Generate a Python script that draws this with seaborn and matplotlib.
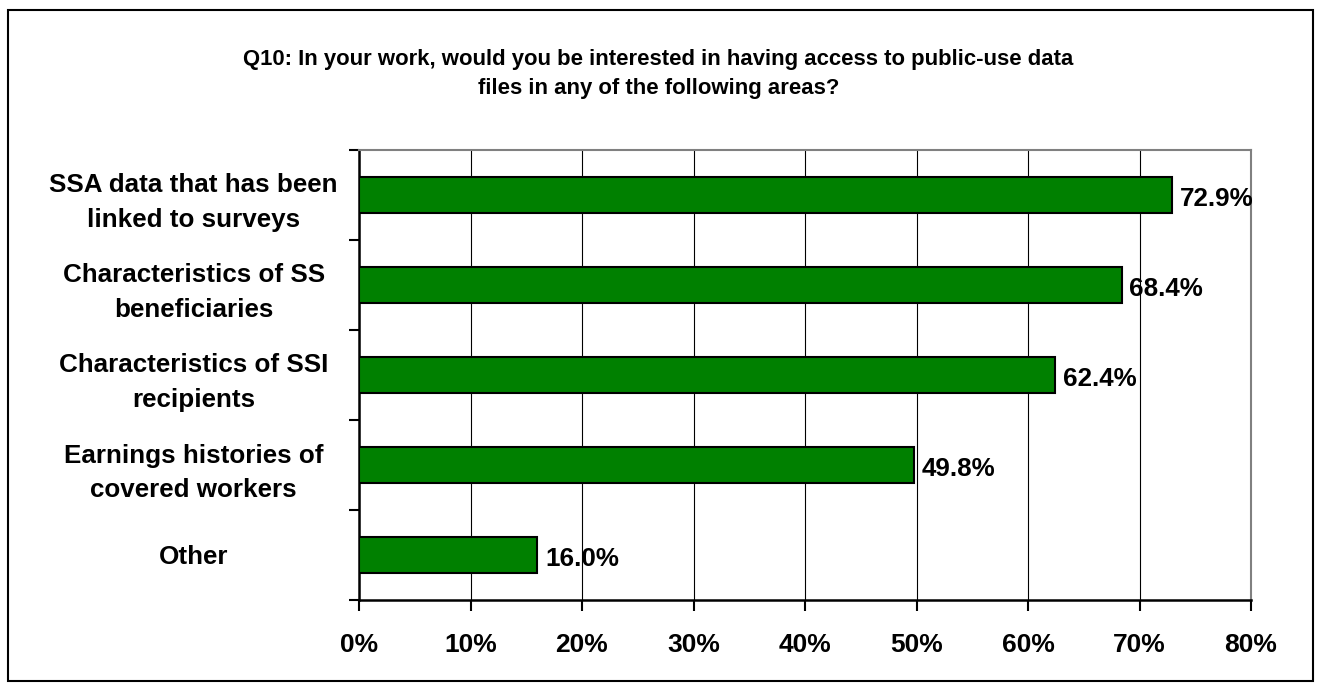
import matplotlib
matplotlib.use("Agg")
import matplotlib.pyplot as plt
import seaborn as sns
import pandas as pd
from matplotlib.patches import Rectangle
from matplotlib.ticker import FixedLocator, NullFormatter

categories = [
    "SSA data that has been\nlinked to surveys",
    "Characteristics of SS\nbeneficiaries",
    "Characteristics of SSI\nrecipients",
    "Earnings histories of\ncovered workers",
    "Other",
]
values = [72.9, 68.4, 62.4, 49.8, 16.0]
value_labels = ["72.9%", "68.4%", "62.4%", "49.8%", "16.0%"]
x_ticks = [0, 10, 20, 30, 40, 50, 60, 70, 80]
x_ticklabels = ["0%", "10%", "20%", "30%", "40%", "50%", "60%", "70%", "80%"]
title = ("Q10: In your work, would you be interested in having access to public-use data\n"
         "files in any of the following areas?")

df = pd.DataFrame({"category": categories, "value": values})

sns.set_theme(style="white")
plt.rcParams["font.family"] = ["Liberation Sans", "DejaVu Sans"]
plt.rcParams["text.color"] = "black"
plt.rcParams["xtick.color"] = "black"
plt.rcParams["ytick.color"] = "black"
plt.rcParams["xtick.labelcolor"] = "black"
plt.rcParams["ytick.labelcolor"] = "black"

fig = plt.figure(figsize=(13.17, 6.89), dpi=100)
ax = fig.add_axes([359/1317, 1 - 600/689, (1251-359)/1317, (600-150)/689])

sns.barplot(data=df, y="category", x="value", orient="h", color="#008000",
            saturation=1, edgecolor="black", linewidth=1.5, width=0.4, ax=ax, zorder=3)

ax.set_xlim(0, 80)
ax.set_ylim(len(categories) - 0.5, -0.5)
ax.set_xticks(x_ticks)
ax.set_xticklabels(x_ticklabels, fontsize=19, fontweight="bold", color="black")
ax.grid(axis="x", color="black", linewidth=0.8, zorder=0)
ax.grid(axis="y", visible=False)
ax.set_axisbelow(True)

# category boundaries as tick marks, labels on category centres
ax.yaxis.set_major_locator(FixedLocator([i - 0.5 for i in range(len(categories) + 1)]))
ax.yaxis.set_major_formatter(NullFormatter())
ax.yaxis.set_minor_locator(FixedLocator(list(range(len(categories)))))
ax.set_yticklabels(categories, minor=True, fontsize=18.7, fontweight="bold",
                   ha="center", linespacing=1.55, color="black")
ax.tick_params(axis="y", which="major", direction="out", length=7, width=1.5,
               color="black", left=True)
ax.tick_params(axis="y", which="minor", length=0, pad=119)
ax.tick_params(axis="x", direction="out", length=8, width=1.5, color="black",
               bottom=True, pad=16)
ax.set_xlabel("")
ax.set_ylabel("")

for side in ["top", "right"]:
    ax.spines[side].set_color("#808080")
    ax.spines[side].set_linewidth(1.5)
for side in ["left", "bottom"]:
    ax.spines[side].set_color("black")
    ax.spines[side].set_linewidth(1.8)

for i, (v, lab) in enumerate(zip(values, value_labels)):
    ax.text(v + 0.7, i + 0.04, lab, va="center", ha="left", fontsize=18.7,
            fontweight="bold", color="black", zorder=5)

fig.text(0.5, 1 - 74/689, title, ha="center", va="center", fontsize=15.9,
         fontweight="bold", linespacing=1.5, color="black")

fig.add_artist(Rectangle((8/1317, 1 - 681/689), 1305/1317, 671/689,
                         transform=fig.transFigure, fill=False,
                         edgecolor="black", linewidth=1.5))

fig.savefig("out.png", dpi=100)
